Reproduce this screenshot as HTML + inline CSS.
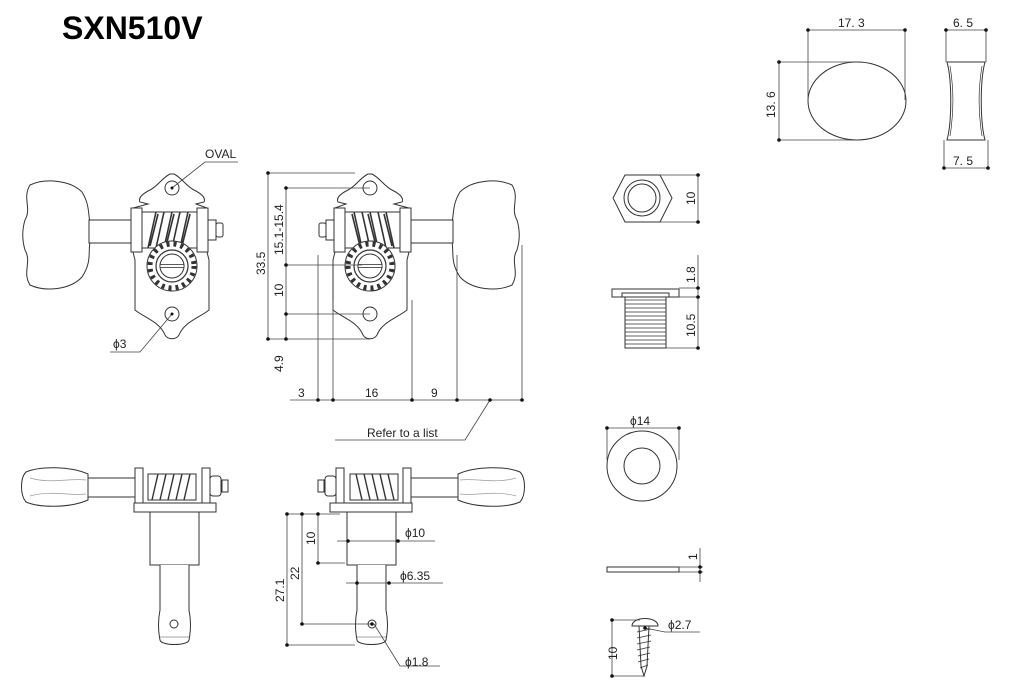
<!DOCTYPE html>
<html><head><meta charset="utf-8"><style>
html,body{margin:0;padding:0;background:#fff;width:1011px;height:700px;overflow:hidden}
svg{display:block}
text{font-family:"Liberation Sans",sans-serif;fill:#222}
</style></head><body>
<svg width="1011" height="700" viewBox="0 0 1011 700" xmlns="http://www.w3.org/2000/svg">
<defs>
<g id="gear">
 <circle r="25" fill="#fff" stroke="#333" stroke-width="1"/>
 <circle r="22" fill="none" stroke="#333" stroke-width="5" stroke-dasharray="3 4"/>
 <circle r="16" fill="#fff" stroke="#333" stroke-width="1.2"/>
 <circle r="12" fill="#fff" stroke="#333" stroke-width="1"/>
 <rect x="-12" y="-1.5" width="24" height="3" fill="#fff" stroke="#333" stroke-width="0.8"/>
</g>
<g id="front">
 <path d="M30,185 C45,178 70,180 82,192 C90,205 88,215 90,222 L90,242 C88,252 92,262 82,277 C70,290 45,292 30,285 C22,272 32,262 25,250 C22,240 22,230 25,220 C32,208 22,198 30,185 Z" fill="#fff" stroke="#333" stroke-width="1"/>
 <rect x="89" y="220" width="44" height="23" fill="#fff" stroke="#333" stroke-width="1"/>
 <path d="M170,174 C162,178 158,186 150,190 C142,194 138,198 140,202 L148,204 L133,208 L133,252 L135,260 L135,310 C145,318 160,322 165,335 C168,340 176,340 179,335 C184,322 199,318 209,310 L209,260 L207,252 L207,208 L196,204 L204,202 C206,198 202,194 194,190 C186,186 182,178 174,174 Z" fill="#fff" stroke="#333" stroke-width="1"/>
 <circle cx="172" cy="188" r="7" fill="#fff" stroke="#333" stroke-width="1"/>
 <circle cx="172" cy="314" r="7" fill="#fff" stroke="#333" stroke-width="1"/>
 <rect x="141" y="212" width="57" height="36" fill="#fff" stroke="#333" stroke-width="1"/>
 <path d="M148,248 L156,212 M156,248 L164,212 M164,248 L172,212 M172,248 L180,212 M180,248 L188,212 M150,246 L158,214 M166,246 L174,214 M182,246 L190,214" stroke="#333" stroke-width="1.6"/>
 <rect x="131" y="208" width="11" height="44" fill="#fff" stroke="#333" stroke-width="1"/>
 <rect x="197" y="208" width="11" height="44" fill="#fff" stroke="#333" stroke-width="1"/>
 <rect x="208" y="220" width="8" height="20" fill="#fff" stroke="#333" stroke-width="1"/>
 <rect x="216" y="223" width="7" height="14" rx="2" fill="#fff" stroke="#333" stroke-width="1"/>
 <use href="#gear" x="172" y="266"/>
</g>
<g id="side">
 <path d="M26,472 C40,466 70,466 88,474 L88,500 C70,508 40,508 26,502 C20,495 20,478 26,472 Z" fill="#fff" stroke="#333" stroke-width="1"/>
 <path d="M30,478 C50,484 70,478 86,480 M30,496 C50,490 70,496 86,494" fill="none" stroke="#999" stroke-width="0.7"/>
 <rect x="88" y="478" width="48" height="19" fill="#fff" stroke="#333" stroke-width="1"/>
 <rect x="135" y="468" width="8" height="36" fill="#fff" stroke="#333" stroke-width="1"/>
 <rect x="202" y="468" width="8" height="36" fill="#fff" stroke="#333" stroke-width="1"/>
 <rect x="148" y="474" width="48" height="26" fill="#fff" stroke="#333" stroke-width="1"/>
 <path d="M152,500 L158,474 M160,500 L166,474 M168,500 L174,474 M176,500 L182,474 M184,500 L190,474" stroke="#333" stroke-width="1.4"/>
 <rect x="210" y="476" width="11" height="20" rx="3" fill="#fff" stroke="#333" stroke-width="1"/>
 <rect x="222" y="480" width="6" height="12" fill="#fff" stroke="#333" stroke-width="1"/>
 <rect x="134" y="503" width="82" height="9" fill="#fff" stroke="#333" stroke-width="1"/>
 <rect x="150" y="512" width="49" height="53" fill="#fff" stroke="#333" stroke-width="1"/>
 <path d="M160,565 L160,610 C158,620 158,630 160,640 C161,646 188,646 189,640 C191,630 191,620 189,610 L189,565" fill="#fff" stroke="#333" stroke-width="1"/>
 <line x1="160" y1="637" x2="189" y2="637" stroke="#888" stroke-width="0.7"/>
 <circle cx="174" cy="624" r="4" fill="#fff" stroke="#333" stroke-width="1"/>
</g>
</defs>

<text x="62" y="39" font-size="32" font-weight="bold" style="fill:#000">SXN510V</text>

<use href="#front"/>
<use href="#front" transform="translate(542,0) scale(-1,1)"/>
<use href="#side"/>
<use href="#side" transform="translate(546,0) scale(-1,1)"/>

<g stroke="#444" stroke-width="0.8" fill="none">
 <polyline points="172,188 205,162 238,162"/>
 <polyline points="172,314 140,352 110,352"/>
 <line x1="268" y1="173" x2="355" y2="173"/>
 <line x1="268" y1="173" x2="268" y2="339"/>
 <line x1="286" y1="188" x2="370" y2="188"/>
 <line x1="286" y1="188" x2="286" y2="339"/>
 <line x1="286" y1="265" x2="362" y2="265"/>
 <line x1="286" y1="314" x2="370" y2="314"/>
 <line x1="268" y1="339" x2="370" y2="339"/>
 <line x1="290" y1="400" x2="522" y2="400"/>
 <line x1="318" y1="255" x2="318" y2="400"/>
 <line x1="333" y1="300" x2="333" y2="400"/>
 <line x1="412" y1="300" x2="412" y2="400"/>
 <line x1="457" y1="255" x2="457" y2="400"/>
 <line x1="522" y1="245" x2="522" y2="400"/>
 <polyline points="490,400 465,440 335,440"/>
 <line x1="287" y1="514" x2="340" y2="514"/>
 <line x1="287" y1="514" x2="287" y2="645"/>
 <line x1="302" y1="514" x2="302" y2="624"/>
 <line x1="318" y1="514" x2="318" y2="563"/>
 <line x1="318" y1="563" x2="345" y2="563"/>
 <line x1="302" y1="624" x2="370" y2="624"/>
 <line x1="287" y1="645" x2="355" y2="645"/>
 <line x1="337" y1="541" x2="435" y2="541"/>
 <line x1="346" y1="583" x2="443" y2="583"/>
 <polyline points="374,624 400,666 440,666"/>
</g>
<g fill="#111">
 <circle cx="268" cy="173" r="1.8"/><circle cx="286" cy="188" r="1.8"/><circle cx="286" cy="265" r="1.8"/>
 <circle cx="286" cy="314" r="1.8"/><circle cx="268" cy="339" r="1.8"/><circle cx="286" cy="339" r="1.8"/>
 <circle cx="318" cy="400" r="1.8"/><circle cx="333" cy="400" r="1.8"/><circle cx="412" cy="400" r="1.8"/>
 <circle cx="457" cy="400" r="1.8"/><circle cx="490" cy="400" r="1.8"/><circle cx="522" cy="400" r="1.8"/>
 <circle cx="287" cy="514" r="1.8"/><circle cx="302" cy="514" r="1.8"/><circle cx="318" cy="514" r="1.8"/>
 <circle cx="318" cy="563" r="1.8"/><circle cx="302" cy="624" r="1.8"/><circle cx="287" cy="645" r="1.8"/>
 <circle cx="348" cy="541" r="1.8"/><circle cx="398" cy="541" r="1.8"/>
 <circle cx="357" cy="583" r="1.8"/><circle cx="389" cy="583" r="1.8"/><circle cx="372" cy="624" r="1.8"/>
 <circle cx="172" cy="188" r="1.5"/><circle cx="172" cy="314" r="1.5"/>
</g>
<g font-size="12">
 <text x="205" y="158">OVAL</text>
 <text x="113" y="348">ϕ3</text>
 <text x="298" y="397">3</text>
 <text x="365" y="397">16</text>
 <text x="431" y="397">9</text>
 <text x="367" y="437">Refer to a list</text>
 <text transform="translate(265,275) rotate(-90)">33.5</text>
 <text transform="translate(283,255) rotate(-90)">15.1-15.4</text>
 <text transform="translate(283,297) rotate(-90)">10</text>
 <text transform="translate(283,372) rotate(-90)">4.9</text>
 <text transform="translate(284,602) rotate(-90)">27.1</text>
 <text transform="translate(299,580) rotate(-90)">22</text>
 <text transform="translate(315,545) rotate(-90)">10</text>
 <text x="405" y="537">ϕ10</text>
 <text x="400" y="580">ϕ6.35</text>
 <text x="405" y="666">ϕ1.8</text>
</g>

<g stroke="#333" stroke-width="1" fill="#fff">
 <polygon points="625,175 660,175 672,198 660,222 625,222 613,198"/>
 <circle cx="642" cy="198" r="18"/>
 <circle cx="642" cy="198" r="14"/>
 <rect x="612" y="289" width="67" height="8"/>
 <rect x="622" y="293" width="47" height="4"/>
 <rect x="625" y="297" width="41" height="51"/>
 <path d="M625,300 H666 M625,304 H666 M625,308 H666 M625,312 H666 M625,316 H666 M625,320 H666 M625,324 H666 M625,328 H666 M625,332 H666 M625,336 H666 M625,340 H666 M625,344 H666" stroke-width="0.7"/>
 <circle cx="642" cy="466" r="35"/>
 <circle cx="642" cy="466" r="18"/>
 <rect x="607" y="567" width="72" height="5"/>
 <path d="M632,626 C632,616 658,616 658,626 Z"/>
 <path d="M639,626 L649,626 L647,666 L644,676 L641,666 Z"/>
 <path d="M637,632 L651,629 M637,638 L651,635 M637,644 L651,641 M637,650 L650,647 M638,656 L650,653 M638,662 L649,659 M640,668 L648,665" stroke-width="0.8"/>
 <ellipse cx="857" cy="101" rx="49" ry="39"/>
 <path d="M947,62 L985,62 C980,80 980,122 985,140 L947,140 C952,122 952,80 947,62 Z"/>
 <path d="M950,66 C954,90 954,112 950,136 M982,66 C978,90 978,112 982,136" fill="none" stroke-width="0.7"/>
</g>
<g stroke="#444" stroke-width="0.8" fill="none">
 <line x1="660" y1="175" x2="700" y2="175"/><line x1="660" y1="222" x2="700" y2="222"/><line x1="698" y1="175" x2="698" y2="222"/>
 <line x1="679" y1="288" x2="700" y2="288"/><line x1="679" y1="297" x2="700" y2="297"/><line x1="666" y1="348" x2="700" y2="348"/><line x1="698" y1="255" x2="698" y2="348"/>
 <line x1="607" y1="428" x2="679" y2="428"/><line x1="607" y1="428" x2="607" y2="460"/><line x1="679" y1="428" x2="679" y2="460"/>
 <line x1="679" y1="567" x2="703" y2="567"/><line x1="679" y1="572" x2="703" y2="572"/><line x1="700" y1="548" x2="700" y2="582"/>
 <line x1="612" y1="620" x2="640" y2="620"/><line x1="612" y1="676" x2="644" y2="676"/><line x1="612" y1="620" x2="612" y2="676"/>
 <polyline points="645,628 665,632 700,632"/>
 <line x1="808" y1="30" x2="905" y2="30"/><line x1="808" y1="30" x2="808" y2="100"/><line x1="905" y1="30" x2="905" y2="100"/>
 <line x1="779" y1="62" x2="857" y2="62"/><line x1="779" y1="140" x2="857" y2="140"/><line x1="779" y1="62" x2="779" y2="140"/>
 <line x1="946" y1="30" x2="986" y2="30"/><line x1="946" y1="30" x2="946" y2="62"/><line x1="986" y1="30" x2="986" y2="62"/>
 <line x1="944" y1="168" x2="988" y2="168"/><line x1="944" y1="140" x2="944" y2="168"/><line x1="988" y1="140" x2="988" y2="168"/>
</g>
<g fill="#111">
 <circle cx="698" cy="175" r="1.8"/><circle cx="698" cy="222" r="1.8"/><circle cx="698" cy="288" r="1.8"/>
 <circle cx="698" cy="297" r="1.8"/><circle cx="698" cy="348" r="1.8"/><circle cx="607" cy="428" r="1.8"/>
 <circle cx="679" cy="428" r="1.8"/><circle cx="700" cy="567" r="1.8"/><circle cx="700" cy="572" r="1.8"/>
 <circle cx="612" cy="620" r="1.8"/><circle cx="612" cy="676" r="1.8"/><circle cx="645" cy="628" r="1.8"/>
 <circle cx="808" cy="30" r="1.8"/><circle cx="905" cy="30" r="1.8"/><circle cx="779" cy="62" r="1.8"/><circle cx="779" cy="140" r="1.8"/>
 <circle cx="946" cy="30" r="1.8"/><circle cx="986" cy="30" r="1.8"/><circle cx="944" cy="168" r="1.8"/><circle cx="988" cy="168" r="1.8"/>
</g>
<g font-size="12">
 <text transform="translate(695,205) rotate(-90)">10</text>
 <text transform="translate(695,283) rotate(-90)">1.8</text>
 <text transform="translate(695,337) rotate(-90)">10.5</text>
 <text x="630" y="425">ϕ14</text>
 <text transform="translate(697,560) rotate(-90)">1</text>
 <text x="668" y="629">ϕ2.7</text>
 <text transform="translate(617,660) rotate(-90)">10</text>
 <text x="838" y="27">17. 3</text>
 <text transform="translate(775,118) rotate(-90)">13. 6</text>
 <text x="953" y="27">6. 5</text>
 <text x="953" y="165">7. 5</text>
</g>
</svg>
</body></html>
